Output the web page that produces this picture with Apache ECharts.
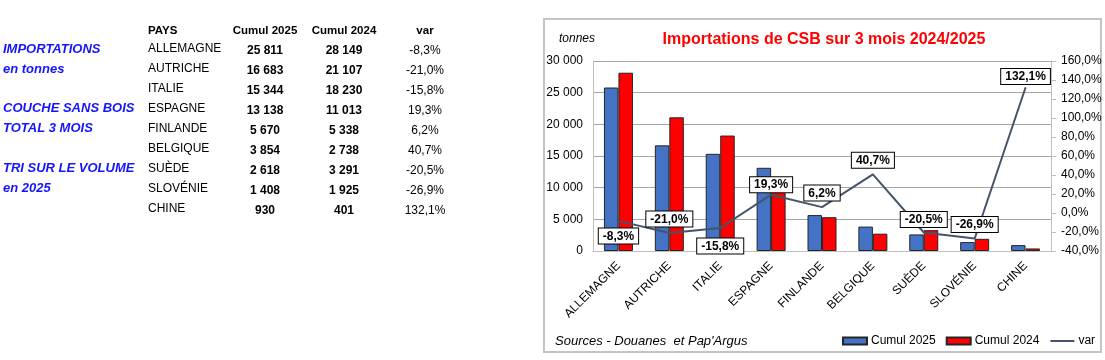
<!DOCTYPE html>
<html><head><meta charset="utf-8">
<script src="https://cdn.jsdelivr.net/npm/echarts@6/dist/echarts.min.js"></script>
<style>html,body{margin:0;padding:0;background:#fff}#c{width:1105px;height:360px}</style>
</head><body><div id="c"></div>
<script>
const countries = ['ALLEMAGNE','AUTRICHE','ITALIE','ESPAGNE','FINLANDE','BELGIQUE','SUÈDE','SLOVÉNIE','CHINE'];
const cumul2025 = [25811,16683,15344,13138,5670,3854,2618,1408,930];
const cumul2024 = [28149,21107,18230,11013,5338,2738,3291,1925,401];
const variation = [-8.3,-21.0,-15.8,19.3,6.2,40.7,-20.5,-26.9,132.1];
const sideNotes = ['IMPORTATIONS','en tonnes','COUCHE SANS BOIS','TOTAL 3 MOIS','TRI SUR LE VOLUME','en 2025'];
const tableHeaders = ['PAYS','Cumul 2025','Cumul 2024','var'];

// label layout (style only)
const labPos  = ['bottom','top','bottom','top','top','top','top','top','top'];
const labDist = [7, 6, 10, 2, 6, 6, 5, 6, 3];
const labDx   = [0, 1, 0, 0, 0, -1, 6, 2, 2];

const fmtInt = v => String(v).replace(/\B(?=(\d{3})+(?!\d))/g, ' ');
const fmtPct = v => v.toFixed(1).replace('.', ',') + '%';
const FONT = 'Arial, "Liberation Sans", sans-serif';

const graphic = [];
// chart frame
graphic.push({type:'rect', shape:{x:544,y:19,width:557,height:333}, style:{fill:'none', stroke:'#c4c4c4', lineWidth:2}, z:-1});
// side notes
const noteY = [51,71,110,130,170,190];
sideNotes.forEach((t,i)=>graphic.push({type:'text', left:3, top:noteY[i]-8, style:{text:t, fill:'#1414ff', font:'italic bold 13px '+FONT}}));
// table headers
graphic.push({type:'text', x:148, y:31, style:{text:tableHeaders[0], fill:'#000', font:'bold 11.5px '+FONT, verticalAlign:'middle'}});
const colX = [265, 344, 425];
[1,2,3].forEach((k,j)=>graphic.push({type:'text', x:colX[j], y:31, style:{text:tableHeaders[k], fill:'#000', font:'bold 11.5px '+FONT, align:'center', verticalAlign:'middle'}}));
countries.forEach((c,i)=>{
  const y = 49 + i*19.9;
  graphic.push({type:'text', x:148, y:y, style:{text:c, fill:'#000', font:'12px '+FONT, verticalAlign:'middle'}});
  graphic.push({type:'text', x:colX[0], y:y+2, style:{text:fmtInt(cumul2025[i]), fill:'#000', font:'bold 12px '+FONT, align:'center', verticalAlign:'middle'}});
  graphic.push({type:'text', x:colX[1], y:y+2, style:{text:fmtInt(cumul2024[i]), fill:'#000', font:'bold 12px '+FONT, align:'center', verticalAlign:'middle'}});
  graphic.push({type:'text', x:colX[2], y:y+2, style:{text:fmtPct(variation[i]), fill:'#000', font:'12px '+FONT, align:'center', verticalAlign:'middle'}});
});
// chart texts
graphic.push({type:'text', x:559, y:39, style:{text:'tonnes', fill:'#000', font:'italic 12px '+FONT, verticalAlign:'middle'}});
graphic.push({type:'text', x:555, y:341, style:{text:"Sources - Douanes  et Pap'Argus", fill:'#000', font:'italic 13px '+FONT, verticalAlign:'middle'}});

const chart = echarts.init(document.getElementById('c'), null, {renderer:'canvas'});
chart.setOption({
  animation:false,
  textStyle:{fontFamily:FONT},
  title:{text:'Importations de CSB sur 3 mois 2024/2025', left:819, top:27, textAlign:'center',
    textStyle:{color:'#ff0000', fontSize:16, fontWeight:'bold', fontFamily:FONT}},
  legend:{left:842, top:335, width:263, padding:0, itemWidth:24, itemHeight:7, itemGap:10,
    textStyle:{fontSize:12, color:'#000', fontFamily:FONT, padding:[0,0,0,-1]},
    data:[{name:'Cumul 2025', icon:'rect'},{name:'Cumul 2024', icon:'rect'},{name:'var', itemStyle:{opacity:0}, lineStyle:{width:2, color:'#44546a'}}]},
  grid:{left:593, right:54, top:61, bottom:109, containLabel:false},
  xAxis:{type:'category', data:countries,
    axisLine:{lineStyle:{color:'#bfbfbf', width:1}}, axisTick:{show:false},
    axisLabel:{rotate:45, fontSize:12, color:'#000', margin:13, interval:0, fontFamily:FONT}},
  yAxis:[
    {type:'value', min:0, max:30000, interval:5000, position:'left',
      axisLine:{show:true, lineStyle:{color:'#bfbfbf'}}, axisTick:{show:false},
      splitLine:{lineStyle:{color:'#a6a6a6', width:1}},
      axisLabel:{formatter:v=>fmtInt(v), fontSize:12, color:'#000', margin:10, fontFamily:FONT}},
    {type:'value', min:-40, max:160, interval:20, position:'right',
      axisLine:{show:true, lineStyle:{color:'#bfbfbf'}}, axisTick:{show:true, length:5, lineStyle:{color:'#bfbfbf'}},
      splitLine:{show:false},
      axisLabel:{formatter:v=>fmtPct(v), fontSize:12, color:'#000', margin:10, fontFamily:FONT}}
  ],
  series:[
    {name:'Cumul 2025', type:'bar', data:cumul2025, barWidth:14.5, barGap:'0%',
      itemStyle:{color:'#4472c4', borderColor:'#262626', borderWidth:1}},
    {name:'Cumul 2024', type:'bar', data:cumul2024, barWidth:14.5, barGap:'0%',
      itemStyle:{color:'#ff0000', borderColor:'#262626', borderWidth:1}},
    {name:'var', type:'line', yAxisIndex:1, symbol:'circle', symbolSize:1, showSymbol:true, z:5,
      lineStyle:{color:'#44546a', width:2}, itemStyle:{color:'#44546a'},
      data:variation.map((v,i)=>({value:v, label:{position:labPos[i], distance:labDist[i], offset:[labDx[i],0]}})),
      label:{show:true, formatter:p=>fmtPct(p.value), fontSize:12, fontWeight:'bold', color:'#000', fontFamily:FONT,
        backgroundColor:'#fff', borderColor:'#000', borderWidth:1, padding:[2,4,1,4]},
      labelLayout:{hideOverlap:false}}
  ],
  graphic:graphic
});
</script></body></html>
